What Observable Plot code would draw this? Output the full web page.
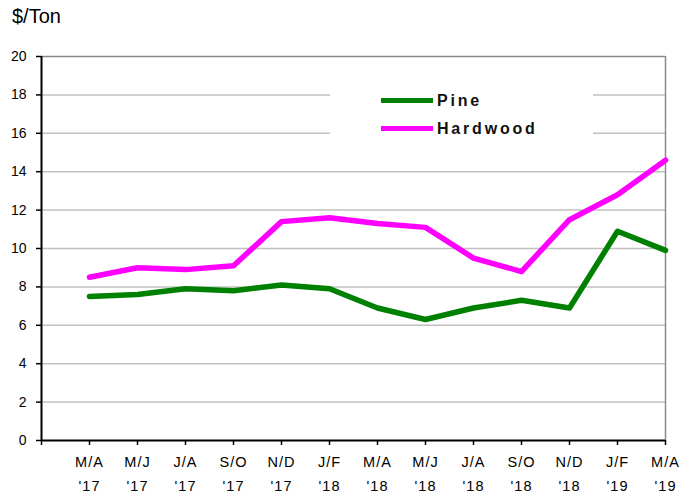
<!DOCTYPE html>
<html>
<head>
<meta charset="utf-8">
<script src="https://cdn.jsdelivr.net/npm/d3@7"></script>
<script src="https://cdn.jsdelivr.net/npm/@observablehq/plot@0.6"></script>
<style>
  html, body { margin: 0; padding: 0; background: white; }
  #wrap { position: relative; width: 699px; height: 496px; font-family: "Liberation Sans", Arial, sans-serif; }
  #unit { position: absolute; left: 12px; top: 5px; font-size: 20px; color: #000; }
  #legend { position: absolute; left: 330px; top: 85px; width: 263px; height: 56px; background: white; }
  .sw { position: absolute; left: 51px; width: 52px; height: 5px; }
  .lt { position: absolute; left: 107px; font-size: 16px; font-weight: bold; letter-spacing: 2.8px; line-height: 1; color: #111; }
</style>
</head>
<body>
<div id="wrap">
  <div id="chart"></div>
  <div id="unit">$/Ton</div>
  <div id="legend"></div>
</div>
<script>
const months = ["M/A", "M/J", "J/A", "S/O", "N/D", "J/F", "M/A", "M/J", "J/A", "S/O", "N/D", "J/F", "M/A"];
const years = ["'17", "'17", "'17", "'17", "'17", "'18", "'18", "'18", "'18", "'18", "'18", "'19", "'19"];
const pine = [7.5, 7.6, 7.9, 7.8, 8.1, 7.9, 6.9, 6.3, 6.9, 7.3, 6.9, 10.9, 9.9];
const hardwood = [8.5, 9.0, 8.9, 9.1, 11.4, 11.6, 11.3, 11.1, 9.5, 8.8, 11.5, 12.8, 14.6];
const seriesNames = ["Pine", "Hardwood"];
const seriesColors = ["#008000", "#ff00ff"];
const yTicks = [0, 2, 4, 6, 8, 10, 12, 14, 16, 18, 20];

const rows = months.map((m, i) => ({pos: i + 1, label: m + "\n" + years[i], pine: pine[i], hardwood: hardwood[i]}));
const xTicks = d3.range(0, months.length + 1);

const chart = Plot.plot({
  width: 699,
  height: 496,
  marginLeft: 41,
  marginRight: 34,
  marginTop: 56,
  marginBottom: 56,
  x: {domain: [0, months.length]},
  y: {domain: [0, 20]},
  style: {fontFamily: "'Liberation Sans', Arial, sans-serif", background: "white", color: "black"},
  marks: [
    Plot.gridY(yTicks.filter(t => t > 0 && t < 20), {stroke: "#c0c0c0", strokeOpacity: 1, strokeWidth: 1.5}),
    Plot.ruleY([20], {stroke: "#8a8a8a", strokeWidth: 1.5}),
    Plot.ruleX([months.length], {stroke: "#8a8a8a", strokeWidth: 1.5}),
    Plot.lineY(rows, {x: "pos", y: "pine", stroke: seriesColors[0], strokeWidth: 5.5}),
    Plot.lineY(rows, {x: "pos", y: "hardwood", stroke: seriesColors[1], strokeWidth: 5.5}),
    Plot.ruleX([0], {stroke: "black", strokeWidth: 2}),
    Plot.ruleY([0], {stroke: "black", strokeWidth: 2}),
    Plot.axisY(yTicks, {tickSize: 5, tickPadding: 10, fontSize: 14, stroke: "black", strokeWidth: 1.5, label: null}),
    Plot.axisX(xTicks, {
      tickSize: 5, tickPadding: 5, fontSize: 14.5, lineHeight: 1.65, stroke: "black", strokeWidth: 1.5, label: null,
      tickFormat: d => d === 0 ? "" : rows[d - 1].label
    })
  ]
});
chart.querySelectorAll("g[aria-label='x-axis tick label'] text").forEach(t => t.setAttribute("letter-spacing", "1"));
document.getElementById("chart").appendChild(chart);

const legend = document.getElementById("legend");
seriesNames.forEach((name, i) => {
  const sw = document.createElement("div");
  sw.className = "sw";
  sw.style.top = (13 + i * 28) + "px";
  sw.style.background = seriesColors[i];
  legend.appendChild(sw);
  const lt = document.createElement("div");
  lt.className = "lt";
  lt.style.top = (8 + i * 28) + "px";
  lt.textContent = name;
  legend.appendChild(lt);
});
</script>
</body>
</html>
